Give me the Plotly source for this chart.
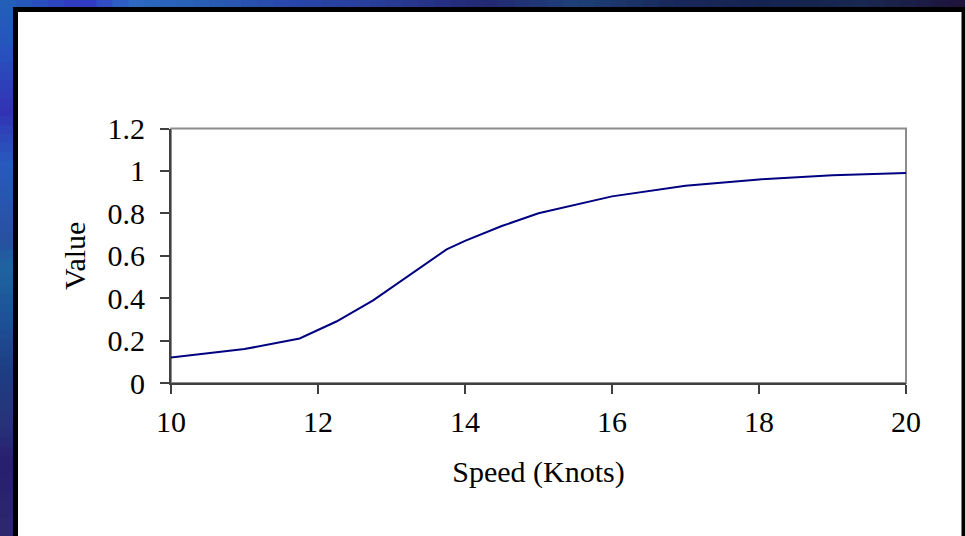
import plotly.graph_objects as go

# Speed vs. value curve
speed = [10, 10.5, 11, 11.75, 12, 12.25, 12.75, 13.25, 13.75, 14, 14.5, 15, 16, 17, 18, 19, 20]
value = [0.12, 0.14, 0.16, 0.21, 0.25, 0.29, 0.39, 0.51, 0.63, 0.67, 0.74, 0.80, 0.88, 0.93, 0.96, 0.98, 0.99]

x_ticks = [10, 12, 14, 16, 18, 20]
y_ticks = [0, 0.2, 0.4, 0.6, 0.8, 1.0, 1.2]
y_tick_text = ["0", "0.2", "0.4", "0.6", "0.8", "1", "1.2"]

W, H = 965, 536
FONT = "Liberation Serif, Times New Roman, serif"
FS = 30

# plot area in pixels
PX0, PX1, PY0, PY1 = 171, 906, 128.5, 383


def lerp_color(stops, t):
    for (t0, c0), (t1, c1) in zip(stops, stops[1:]):
        if t0 <= t <= t1:
            f = 0 if t1 == t0 else (t - t0) / (t1 - t0)
            c = [round(a + (b - a) * f) for a, b in zip(c0, c1)]
            return f"rgb({c[0]},{c[1]},{c[2]})"
    c = stops[-1][1]
    return f"rgb({c[0]},{c[1]},{c[2]})"


top_stops = [(0, (35, 95, 185)), (0.08, (50, 55, 195)), (0.13, (45, 105, 195)),
             (0.2, (40, 95, 180)), (0.3, (40, 70, 170)), (0.4, (40, 60, 150)),
             (0.5, (35, 40, 115)), (0.6, (30, 65, 120)), (0.7, (25, 40, 90)),
             (0.8, (20, 35, 80)), (0.9, (25, 40, 80)), (1.0, (30, 20, 60))]
left_stops = [(0, (35, 95, 185)), (0.1, (40, 80, 190)), (0.2, (50, 50, 180)),
              (0.3, (40, 90, 190)), (0.45, (40, 80, 160)), (0.5, (30, 100, 160)),
              (0.6, (30, 80, 150)), (0.7, (30, 60, 130)), (0.8, (40, 50, 120)),
              (0.87, (40, 30, 110)), (1.0, (45, 40, 110))]

shapes = []
# gradient backdrop: top strip and left strip
N = 60
for i in range(N):
    x0 = W * i / N
    x1 = W * (i + 1) / N + 1
    shapes.append(dict(type="rect", xref="paper", yref="paper", layer="below",
                       x0=x0 / W, x1=min(x1, W) / W, y0=1 - 14 / H, y1=1,
                       line=dict(width=0), fillcolor=lerp_color(top_stops, i / (N - 1))))
for i in range(N):
    y0 = H * i / N
    y1 = H * (i + 1) / N + 1
    shapes.append(dict(type="rect", xref="paper", yref="paper", layer="below",
                       x0=0, x1=16 / W, y0=1 - min(y1, H) / H, y1=1 - y0 / H,
                       line=dict(width=0), fillcolor=lerp_color(left_stops, i / (N - 1))))

# black-framed white panel
shapes.append(dict(type="rect", xref="paper", yref="paper", layer="below",
                   x0=13 / W, x1=1, y0=0, y1=1 - 7 / H,
                   line=dict(width=0), fillcolor="black"))
shapes.append(dict(type="rect", xref="paper", yref="paper", layer="below",
                   x0=18 / W, x1=961.5 / W, y0=0, y1=1 - 12 / H,
                   line=dict(width=0), fillcolor="white"))
# light grey plot frame (top/right)
shapes.append(dict(type="rect", xref="paper", yref="paper", layer="below",
                   x0=PX0 / W, x1=PX1 / W, y0=1 - PY1 / H, y1=1 - PY0 / H,
                   line=dict(width=2, color="#8c8c8c"), fillcolor="rgba(0,0,0,0)"))

fig = go.Figure()
fig.add_trace(go.Scatter(x=speed, y=value, mode="lines",
                         line=dict(color="#000080", width=2), hoverinfo="skip",
                         showlegend=False))

xdom = [PX0 / W, PX1 / W]
ydom = [1 - PY1 / H, 1 - PY0 / H]

fig.update_layout(
    width=W, height=H, autosize=False,
    margin=dict(l=0, r=0, t=0, b=0, pad=0),
    paper_bgcolor="white",
    plot_bgcolor="rgba(0,0,0,0)",
    shapes=shapes,
    font=dict(family=FONT, size=FS, color="black"),
    xaxis=dict(domain=xdom, range=[10, 20], tickvals=x_ticks, automargin=False,
               ticks="outside", ticklen=9, tickwidth=2, tickcolor="#404040",
               showline=True, linecolor="#404040", linewidth=2,
               showgrid=False, zeroline=False, anchor="y",
               ticklabelstandoff=2,
               tickfont=dict(family=FONT, size=FS),
               title=dict(text="Speed (Knots)", font=dict(family=FONT, size=FS), standoff=24)),
    yaxis=dict(domain=ydom, range=[0, 1.2], tickvals=y_ticks, ticktext=y_tick_text,
               automargin=False,
               ticks="outside", ticklen=9, tickwidth=2, tickcolor="#404040",
               showline=True, linecolor="#404040", linewidth=2,
               showgrid=False, zeroline=False, anchor="x",
               ticklabelstandoff=9,
               tickfont=dict(family=FONT, size=FS),
               title=dict(text="Value", font=dict(family=FONT, size=FS), standoff=13)),
    # companion axes carrying the inner half of the crossing tick marks
    xaxis2=dict(domain=xdom, overlaying="x", matches="x", anchor="y", side="bottom",
                automargin=False,
                tickvals=x_ticks, ticks="inside", ticklen=9, tickwidth=2,
                tickcolor="#404040", showticklabels=False, showline=False,
                showgrid=False, zeroline=False),
    yaxis2=dict(domain=ydom, overlaying="y", matches="y", anchor="x", side="left",
                automargin=False,
                tickvals=y_ticks, ticks="inside", ticklen=9, tickwidth=2,
                tickcolor="#404040", showticklabels=False, showline=False,
                showgrid=False, zeroline=False),
)

fig.write_html("out.html")
